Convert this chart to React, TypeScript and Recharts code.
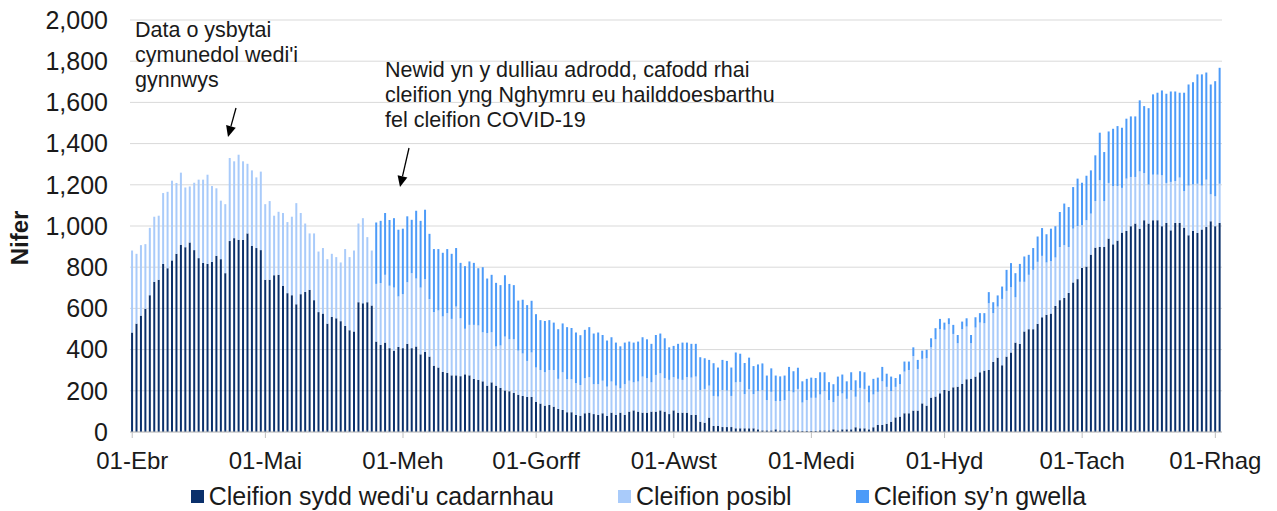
import { BarChart, Bar, XAxis, YAxis, CartesianGrid, Legend } from 'recharts';

document.body.style.margin = '0';

const FONT = '"Liberation Sans", Arial, sans-serif';

// Welsh month labels and lengths, 1 April to early December
const monthNames = ['Ebr', 'Mai', 'Meh', 'Gorff', 'Awst', 'Medi', 'Hyd', 'Tach', 'Rhag'];
const monthLengths = [30, 31, 30, 31, 31, 30, 31, 30, 31];
const yTicks = [0, 200, 400, 600, 800, 1000, 1200, 1400, 1600, 1800, 2000];

// Cleifion sydd wedi'u cadarnhau
const confirmed = [
  483, 526, 565, 598, 664, 729, 739, 816, 795, 833,
  865, 909, 897, 920, 883, 844, 821, 816, 826, 855,
  839, 771, 927, 941, 933, 933, 964, 904, 893, 883,
  739, 739, 761, 763, 710, 674, 664, 620, 669, 680,
  690, 640, 582, 575, 526, 559, 552, 538, 515, 494,
  488, 630, 625, 630, 614, 439, 423, 434, 407, 395,
  413, 407, 428, 407, 415, 377, 389, 366, 322, 313,
  292, 287, 275, 275, 271, 280, 275, 258, 253, 246,
  225, 241, 225, 214, 202, 198, 190, 181, 175, 170,
  170, 147, 138, 128, 131, 123, 112, 107, 96, 96,
  83, 79, 91, 94, 87, 83, 91, 78, 94, 83,
  94, 83, 99, 105, 99, 94, 94, 99, 99, 105,
  99, 87, 105, 94, 94, 94, 83, 83, 50, 45,
  70, 29, 29, 24, 24, 24, 18, 18, 18, 18,
  18, 13, 8, 8, 8, 13, 8, 8, 8, 8,
  8, 5, 5, 5, 5, 8, 8, 8, 13, 8,
  13, 13, 13, 23, 18, 18, 13, 23, 34, 34,
  40, 50, 71, 75, 91, 91, 104, 104, 139, 128,
  167, 172, 188, 204, 201, 217, 220, 233, 256, 259,
  269, 290, 298, 301, 340, 361, 324, 366, 386, 434,
  428, 488, 499, 499, 525, 557, 569, 575, 612, 640,
  651, 675, 726, 742, 797, 803, 861, 895, 898, 898,
  939, 911, 929, 968, 976, 999, 1012, 987, 1028, 1012,
  1028, 1028, 999, 1015, 979, 1015, 1015, 992, 955, 976,
  966, 983, 995, 1023, 999, 1015,
];

// Cleifion posibl
const possible = [
  398, 339, 342, 314, 327, 316, 311, 344, 371, 387,
  344, 350, 290, 272, 327, 381, 404, 433, 368, 328,
  284, 335, 403, 373, 413, 381, 338, 366, 343, 381,
  367, 382, 289, 306, 353, 345, 381, 491, 394, 332,
  274, 324, 294, 318, 313, 306, 297, 285, 373, 355,
  393, 382, 413, 316, 267, 280, 300, 329, 303, 306,
  245, 262, 299, 364, 330, 324, 353, 279, 260, 277,
  269, 290, 274, 334, 281, 221, 245, 262, 264, 238,
  255, 243, 190, 206, 261, 252, 260, 214, 206, 175,
  216, 166, 163, 162, 170, 178, 146, 183, 160, 160,
  154, 149, 170, 172, 145, 149, 158, 142, 151, 142,
  118, 149, 150, 136, 146, 175, 167, 142, 178, 180,
  162, 166, 161, 164, 159, 172, 181, 186, 154, 164,
  155, 146, 143, 180, 177, 151, 223, 225, 166, 190,
  166, 185, 195, 147, 187, 137, 142, 147, 190, 184,
  201, 138, 150, 161, 161, 174, 190, 147, 132, 167,
  174, 148, 190, 148, 196, 191, 130, 159, 161, 212,
  179, 148, 148, 157, 202, 210, 265, 202, 216, 230,
  244, 278, 311, 292, 322, 259, 211, 266, 256, 172,
  238, 241, 230, 324, 237, 248, 322, 319, 317, 220,
  301, 241, 264, 288, 301, 298, 254, 254, 235, 258,
  256, 223, 261, 258, 207, 225, 199, 226, 324, 223,
  270, 283, 265, 217, 254, 239, 226, 278, 229, 189,
  221, 221, 247, 194, 235, 203, 220, 178, 241, 226,
  239, 213, 230, 131, 145, 190,
];

// Cleifion sy'n gwella (reported from late May)
const recovering = [
  0, 0, 0, 0, 0, 0, 0, 0, 0, 0,
  0, 0, 0, 0, 0, 0, 0, 0, 0, 0,
  0, 0, 0, 0, 0, 0, 0, 0, 0, 0,
  0, 0, 0, 0, 0, 0, 0, 0, 0, 0,
  0, 0, 0, 0, 0, 0, 0, 0, 0, 0,
  0, 0, 0, 0, 0, 298, 302, 300, 319, 337,
  324, 318, 320, 259, 329, 324, 337, 317, 306, 298,
  309, 311, 316, 284, 269, 304, 308, 301, 278, 316,
  265, 279, 309, 293, 298, 269, 263, 243, 261, 271,
  251, 259, 242, 249, 242, 230, 241, 237, 253, 249,
  246, 242, 235, 243, 246, 251, 222, 224, 215, 209,
  204, 202, 190, 193, 194, 191, 189, 187, 194, 193,
  194, 158, 152, 170, 181, 168, 164, 159, 159, 149,
  125, 159, 141, 146, 144, 138, 145, 137, 151, 153,
  136, 130, 130, 119, 114, 124, 120, 119, 118, 103,
  103, 103, 103, 98, 96, 108, 92, 87, 87, 94,
  92, 85, 87, 80, 81, 81, 82, 76, 69, 70,
  64, 71, 43, 48, 49, 41, 42, 44, 40, 41,
  44, 54, 50, 35, 29, 44, 40, 37, 40, 40,
  50, 46, 49, 54, 53, 54, 60, 102, 117, 117,
  87, 123, 97, 106, 123, 135, 137, 158, 152, 170,
  202, 194, 202, 230, 206, 216, 210, 222, 231, 238,
  250, 278, 291, 292, 291, 294, 294, 345, 325, 371,
  390, 398, 412, 433, 439, 435, 412, 477, 491, 496,
  531, 540, 520, 533, 559, 563,
];

const series = [
  { key: 'confirmed', name: "Cleifion sydd wedi'u cadarnhau", color: '#0a306b' },
  { key: 'possible', name: 'Cleifion posibl', color: '#a9cbfa' },
  { key: 'recovering', name: 'Cleifion sy’n gwella', color: '#4d9bf8' },
];

const dayLabels: string[] = [];
monthNames.forEach((m, i) => {
  for (let d = 1; d <= monthLengths[i]; d++) {
    dayLabels.push(`${String(d).padStart(2, '0')}-${m}`);
  }
});

const data = confirmed.map((v, i) => ({
  date: dayLabels[i],
  confirmed: v,
  possible: possible[i],
  recovering: recovering[i],
}));

const monthTicks = monthNames.map((m) => `01-${m}`);

function Arrow({ x1, y1, x2, y2 }: { x1: number; y1: number; x2: number; y2: number }) {
  const len = Math.hypot(x2 - x1, y2 - y1);
  const ux = (x2 - x1) / len;
  const uy = (y2 - y1) / len;
  const bx = x2 - ux * 11;
  const by = y2 - uy * 11;
  const px = -uy * 5;
  const py = ux * 5;
  return (
    <g>
      <line x1={x1} y1={y1} x2={bx} y2={by} stroke="#000" strokeWidth={1.3} />
      <polygon points={`${x2},${y2} ${bx + px},${by + py} ${bx - px},${by - py}`} fill="#000" />
    </g>
  );
}

const renderLegend = () => (
  <div style={{ display: 'flex', justifyContent: 'center', gap: 64, fontFamily: FONT, fontSize: 25, color: '#1a1a1a' }}>
    {series.map((s) => (
      <div key={s.key} style={{ display: 'flex', alignItems: 'center' }}>
        <span style={{ display: 'inline-block', width: 13, height: 13, background: s.color, marginRight: 5 }} />
        <span>{s.name}</span>
      </div>
    ))}
  </div>
);

export default function App() {
  return (
    <div style={{ position: 'relative', width: 1277, height: 511, fontFamily: FONT }}>
      <BarChart
        width={1277}
        height={511}
        data={data}
        margin={{ top: 20, right: 55, bottom: 49, left: 0 }}
        barCategoryGap="24%"
      >
        <CartesianGrid vertical={false} stroke="#d9d9d9" />
        <XAxis
          dataKey="date"
          ticks={monthTicks}
          interval={0}
          height={30}
          tick={{ fontSize: 24, fill: '#1a1a1a', fontFamily: FONT }}
          tickLine={{ stroke: '#bfbfbf' }}
          axisLine={{ stroke: '#bfbfbf' }}
          tickSize={6}
          tickMargin={14}
        />
        <YAxis
          domain={[0, 2000]}
          ticks={yTicks}
          interval={0}
          width={130}
          axisLine={false}
          tickLine={false}
          tickSize={0}
          tickMargin={22}
          tick={{ fontSize: 25, fill: '#1a1a1a', fontFamily: FONT }}
          tickFormatter={(v: number) => v.toLocaleString('en-US')}
        />
        <Legend
          layout="horizontal"
          verticalAlign="middle"
          align="center"
          wrapperStyle={{ top: 482, left: 0, width: 1277 }}
          content={renderLegend}
        />
        {series.map((s) => (
          <Bar key={s.key} dataKey={s.key} name={s.name} stackId="a" fill={s.color} isAnimationActive={false} />
        ))}
      </BarChart>
      <svg
        width={1277}
        height={511}
        style={{ position: 'absolute', left: 0, top: 0, pointerEvents: 'none' }}
        fontFamily={FONT}
      >
        <text
          x={19}
          y={238}
          transform="rotate(-90 19 238)"
          textAnchor="middle"
          dominantBaseline="central"
          fontSize={24}
          fontWeight="bold"
          fill="#1a1a1a"
        >
          Nifer
        </text>
        <text fontSize={21.5} fill="#1a1a1a">
          <tspan x={135} y={37}>Data o ysbytai</tspan>
          <tspan x={135} y={62}>cymunedol wedi'i</tspan>
          <tspan x={135} y={87}>gynnwys</tspan>
        </text>
        <text fontSize={21.5} fill="#1a1a1a">
          <tspan x={385} y={77}>Newid yn y dulliau adrodd, cafodd rhai</tspan>
          <tspan x={385} y={102}>cleifion yng Nghymru eu hailddoesbarthu</tspan>
          <tspan x={385} y={127}>fel cleifion COVID-19</tspan>
        </text>
        <Arrow x1={236} y1={108} x2={228} y2={137} />
        <Arrow x1={409} y1={148} x2={400} y2={187} />
      </svg>
    </div>
  );
}
